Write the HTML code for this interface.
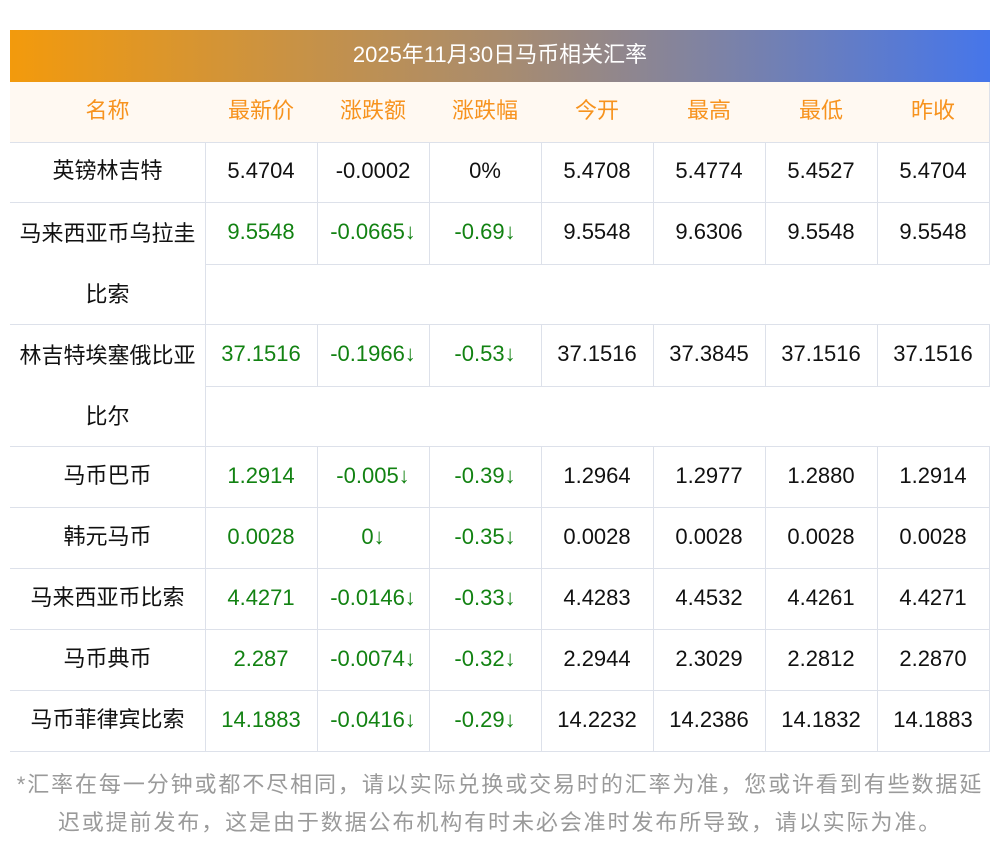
<!DOCTYPE html>
<html><head><meta charset="utf-8"><style>
body{margin:0;width:1000px;height:853px;background:#fff;font-family:"Liberation Sans","Noto Sans CJK SC",sans-serif;position:relative;overflow:hidden}
.bar{position:absolute;left:10px;top:30px;width:980px;height:52px;background:linear-gradient(90deg,#f39a0c,#a98c6e 50%,#4676ea);color:#fff;font-size:22px;line-height:50px;text-align:center}
.c{position:absolute;box-sizing:border-box;border-right:1px solid #dde1ea;border-bottom:1px solid #dde1ea;text-align:center;font-size:22px;line-height:58px;color:#111}
.h{background:#fff9f2;color:#f7931e;height:61px}
.n{left:10px;width:196px}
.g{color:#128212}
.note{position:absolute;left:0;width:1000px;top:766px;text-align:center;color:#9a9a9a;font-size:22px;line-height:38px;letter-spacing:1.9px}
</style></head><body>
<div class="bar">2025年11月30日马币相关汇率</div>
<div class="c h n" style="top:82px">名称</div>
<div class="c h" style="top:82px;left:205px;width:113px">最新价</div>
<div class="c h" style="top:82px;left:317px;width:113px">涨跌额</div>
<div class="c h" style="top:82px;left:429px;width:113px">涨跌幅</div>
<div class="c h" style="top:82px;left:541px;width:113px">今开</div>
<div class="c h" style="top:82px;left:653px;width:113px">最高</div>
<div class="c h" style="top:82px;left:765px;width:113px">最低</div>
<div class="c h" style="top:82px;left:877px;width:113px">昨收</div>

<div class="c n" style="top:142px;height:61px">英镑林吉特</div>
<div class="c" style="top:142px;height:61px;left:205px;width:113px">5.4704</div>
<div class="c" style="top:142px;height:61px;left:317px;width:113px">-0.0002</div>
<div class="c" style="top:142px;height:61px;left:429px;width:113px">0%</div>
<div class="c" style="top:142px;height:61px;left:541px;width:113px">5.4708</div>
<div class="c" style="top:142px;height:61px;left:653px;width:113px">5.4774</div>
<div class="c" style="top:142px;height:61px;left:765px;width:113px">5.4527</div>
<div class="c" style="top:142px;height:61px;left:877px;width:113px">5.4704</div>

<div class="c n" style="top:203px;height:122px;line-height:61px">马来西亚币乌拉圭<br>比索</div>
<div class="c g" style="top:203px;height:62px;left:205px;width:113px">9.5548</div>
<div class="c g" style="top:203px;height:62px;left:317px;width:113px">-0.0665↓</div>
<div class="c g" style="top:203px;height:62px;left:429px;width:113px">-0.69↓</div>
<div class="c" style="top:203px;height:62px;left:541px;width:113px">9.5548</div>
<div class="c" style="top:203px;height:62px;left:653px;width:113px">9.6306</div>
<div class="c" style="top:203px;height:62px;left:765px;width:113px">9.5548</div>
<div class="c" style="top:203px;height:62px;left:877px;width:113px">9.5548</div>

<div class="c n" style="top:325px;height:122px;line-height:61px">林吉特埃塞俄比亚<br>比尔</div>
<div class="c g" style="top:324px;height:63px;left:205px;width:113px;border-top:1px solid #dde1ea">37.1516</div>
<div class="c g" style="top:324px;height:63px;left:317px;width:113px;border-top:1px solid #dde1ea">-0.1966↓</div>
<div class="c g" style="top:324px;height:63px;left:429px;width:113px;border-top:1px solid #dde1ea">-0.53↓</div>
<div class="c" style="top:324px;height:63px;left:541px;width:113px;border-top:1px solid #dde1ea">37.1516</div>
<div class="c" style="top:324px;height:63px;left:653px;width:113px;border-top:1px solid #dde1ea">37.3845</div>
<div class="c" style="top:324px;height:63px;left:765px;width:113px;border-top:1px solid #dde1ea">37.1516</div>
<div class="c" style="top:324px;height:63px;left:877px;width:113px;border-top:1px solid #dde1ea">37.1516</div>
<div style="position:absolute;left:10px;top:446px;width:980px;border-top:1px solid #dde1ea"></div>

<div class="c n" style="top:447px;height:61px">马币巴币</div>
<div class="c g" style="top:447px;height:61px;left:205px;width:113px">1.2914</div>
<div class="c g" style="top:447px;height:61px;left:317px;width:113px">-0.005↓</div>
<div class="c g" style="top:447px;height:61px;left:429px;width:113px">-0.39↓</div>
<div class="c" style="top:447px;height:61px;left:541px;width:113px">1.2964</div>
<div class="c" style="top:447px;height:61px;left:653px;width:113px">1.2977</div>
<div class="c" style="top:447px;height:61px;left:765px;width:113px">1.2880</div>
<div class="c" style="top:447px;height:61px;left:877px;width:113px">1.2914</div>

<div class="c n" style="top:508px;height:61px">韩元马币</div>
<div class="c g" style="top:508px;height:61px;left:205px;width:113px">0.0028</div>
<div class="c g" style="top:508px;height:61px;left:317px;width:113px">0↓</div>
<div class="c g" style="top:508px;height:61px;left:429px;width:113px">-0.35↓</div>
<div class="c" style="top:508px;height:61px;left:541px;width:113px">0.0028</div>
<div class="c" style="top:508px;height:61px;left:653px;width:113px">0.0028</div>
<div class="c" style="top:508px;height:61px;left:765px;width:113px">0.0028</div>
<div class="c" style="top:508px;height:61px;left:877px;width:113px">0.0028</div>

<div class="c n" style="top:569px;height:61px">马来西亚币比索</div>
<div class="c g" style="top:569px;height:61px;left:205px;width:113px">4.4271</div>
<div class="c g" style="top:569px;height:61px;left:317px;width:113px">-0.0146↓</div>
<div class="c g" style="top:569px;height:61px;left:429px;width:113px">-0.33↓</div>
<div class="c" style="top:569px;height:61px;left:541px;width:113px">4.4283</div>
<div class="c" style="top:569px;height:61px;left:653px;width:113px">4.4532</div>
<div class="c" style="top:569px;height:61px;left:765px;width:113px">4.4261</div>
<div class="c" style="top:569px;height:61px;left:877px;width:113px">4.4271</div>

<div class="c n" style="top:630px;height:61px">马币典币</div>
<div class="c g" style="top:630px;height:61px;left:205px;width:113px">2.287</div>
<div class="c g" style="top:630px;height:61px;left:317px;width:113px">-0.0074↓</div>
<div class="c g" style="top:630px;height:61px;left:429px;width:113px">-0.32↓</div>
<div class="c" style="top:630px;height:61px;left:541px;width:113px">2.2944</div>
<div class="c" style="top:630px;height:61px;left:653px;width:113px">2.3029</div>
<div class="c" style="top:630px;height:61px;left:765px;width:113px">2.2812</div>
<div class="c" style="top:630px;height:61px;left:877px;width:113px">2.2870</div>

<div class="c n" style="top:691px;height:61px">马币菲律宾比索</div>
<div class="c g" style="top:691px;height:61px;left:205px;width:113px">14.1883</div>
<div class="c g" style="top:691px;height:61px;left:317px;width:113px">-0.0416↓</div>
<div class="c g" style="top:691px;height:61px;left:429px;width:113px">-0.29↓</div>
<div class="c" style="top:691px;height:61px;left:541px;width:113px">14.2232</div>
<div class="c" style="top:691px;height:61px;left:653px;width:113px">14.2386</div>
<div class="c" style="top:691px;height:61px;left:765px;width:113px">14.1832</div>
<div class="c" style="top:691px;height:61px;left:877px;width:113px">14.1883</div>

<div class="note">*汇率在每一分钟或都不尽相同，请以实际兑换或交易时的汇率为准，您或许看到有些数据延<br>迟或提前发布，这是由于数据公布机构有时未必会准时发布所导致，请以实际为准。</div>
</body></html>
